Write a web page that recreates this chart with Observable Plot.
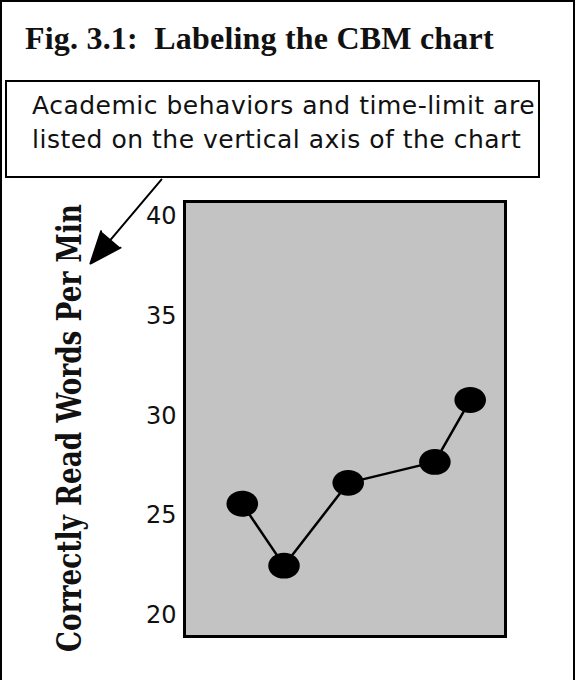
<!DOCTYPE html>
<html>
<head>
<meta charset="utf-8">
<script src="https://cdn.jsdelivr.net/npm/d3@7"></script>
<script src="https://cdn.jsdelivr.net/npm/@observablehq/plot@0.6"></script>
<style>
  html, body { margin: 0; padding: 0; background: white; }
  #page { position: relative; width: 576px; height: 680px; overflow: hidden; background: white; }
  #frame { position: absolute; left: 0; top: 0; width: 575px; height: 720px; box-sizing: border-box;
           border: 2px solid black; border-bottom: none; pointer-events: none; z-index: 5; }
  #title { position: absolute; left: 25px; top: 22px; font-family: "Liberation Serif", serif; font-weight: bold;
           font-size: 32px; line-height: 32px; letter-spacing: 0.2px; white-space: nowrap; color: #111; }
  #callout { position: absolute; left: 5px; top: 80px; width: 535px; height: 98px; box-sizing: border-box;
             border: 2px solid black; padding: 7px 0 0 25px; font-family: "DejaVu Sans", sans-serif;
             font-size: 25px; line-height: 33.5px; letter-spacing: 0.5px; white-space: nowrap; color: #111; }
  #chart { position: absolute; left: 0; top: 178px; }
</style>
</head>
<body>
<div id="page">
  <div id="title"></div>
  <div id="callout"></div>
  <div id="chart"></div>
  <div id="frame"></div>
</div>
<script>
// ---- data ----
const titleText = "Fig. 3.1:\u00a0 Labeling the CBM chart";
const calloutLines = ["Academic behaviors and time-limit are", "listed on the vertical axis of the chart"];
const yLabel = "Correctly Read Words Per Min";
const sessions = [1.8, 3.1, 5.1, 7.8, 8.9];
const wordsPerMin = [25.6, 22.5, 26.65, 27.7, 30.8];
const yTicks = [20, 25, 30, 35, 40];
const xDomain = [0, 10];
const yDomain = [18.95, 40.75];
// callout arrow (data coordinates, extends outside the frame)
const arrowFrom = {x: -0.72, y: 41.85};
const arrowTo = {x: -2.93, y: 37.64};

document.getElementById("title").textContent = titleText;
const co = document.getElementById("callout");
calloutLines.forEach((t, i) => {
  if (i) co.appendChild(document.createElement("br"));
  co.appendChild(document.createTextNode(t));
});

const points = sessions.map((s, i) => ({session: s, wpm: wordsPerMin[i]}));

// ellipse symbol for the dots
const K = 0.5522847498;
const ellipse = {
  draw(ctx, size) {
    const rx = Math.sqrt(size / Math.PI);
    const ry = rx * 0.82;
    ctx.moveTo(rx, 0);
    ctx.bezierCurveTo(rx, ry * K, rx * K, ry, 0, ry);
    ctx.bezierCurveTo(-rx * K, ry, -rx, ry * K, -rx, 0);
    ctx.bezierCurveTo(-rx, -ry * K, -rx * K, -ry, 0, -ry);
    ctx.bezierCurveTo(rx * K, -ry, rx, -ry * K, rx, 0);
    ctx.closePath();
  }
};

const labelFont = 33;
const plot = Plot.plot({
  width: 576,
  height: 502,
  marginLeft: 184,
  marginRight: 71,
  marginTop: 23,
  marginBottom: 44,
  style: {background: "none", fontFamily: "DejaVu Sans, sans-serif", color: "#111"},
  x: {domain: xDomain, axis: null},
  y: {domain: yDomain, ticks: yTicks, tickSize: 0, tickPadding: 8, label: null, tickFormat: d => String(d)},
  marks: [
    Plot.frame({fill: "#c3c3c3", stroke: "black", strokeWidth: 3}),
    Plot.axisY({ticks: yTicks, tickSize: 0, tickPadding: 8, fontSize: 24, label: null, tickFormat: d => String(d)}),
    Plot.line(points, {x: "session", y: "wpm", stroke: "black", strokeWidth: 2.5}),
    Plot.dot(points, {x: "session", y: "wpm", symbol: ellipse, r: 15.8, fill: "black", stroke: "none"}),
    Plot.arrow([{...arrowFrom, x2: arrowTo.x, y2: arrowTo.y}], {
      x1: "x", y1: "y", x2: "x2", y2: "y2", stroke: "black", fill: "black",
      strokeWidth: 2, headLength: 25.5, headAngle: 44, inset: 0
    }),
    Plot.text([yLabel], {
      text: d => d, frameAnchor: "left", rotate: -90, dx: -104, dy: 9,
      lineAnchor: "bottom", textAnchor: "middle",
      fontFamily: "DejaVu Serif Condensed, DejaVu Serif, serif", fontWeight: "bold", fontSize: labelFont,
      fill: "#111", className: "ylab"
    })
  ]
});
document.getElementById("chart").appendChild(plot);
// fit the rotated label to its measured length in the reference: shrink the font so its
// natural length matches, then stretch the glyphs back to full height
const lab = plot.querySelector(".ylab text");
if (lab) {
  const L = lab.getComputedTextLength();
  const target = 448;
  if (L > 0) {
    const k = target / L;
    lab.setAttribute("font-size", labelFont * k);
    lab.style.fontSize = (labelFont * k) + "px";
    const g = lab.closest("g.ylab") || lab.parentNode;
    g.setAttribute("font-size", labelFont * k);
    const tr = lab.getAttribute("transform") || "";
    lab.setAttribute("transform", tr + ` scale(1,${1 / k})`);
  }
}
</script>
</body>
</html>
